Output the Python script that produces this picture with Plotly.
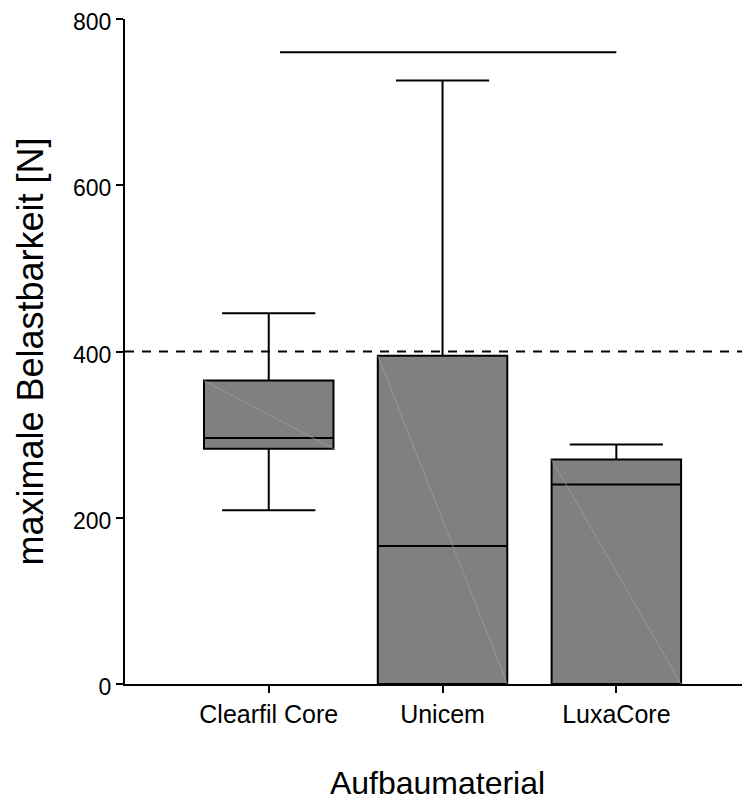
import plotly.graph_objects as go

# ---- data ----
categories = ["Clearfil Core", "Unicem", "LuxaCore"]
lower_whisker = [209, 0, 0]
q1_values = [283, 0, 0]
median_values = [296, 166, 240]
q3_values = [365, 395, 270]
upper_whisker = [446, 726, 288]
reference_level = [400]
bracket_level = [760]
bracket_span = [0.065, 2.0]
y_ticks = [0, 200, 400, 600, 800]

positions = list(range(len(categories)))
box_width = 0.745

fig = go.Figure()
fig.add_trace(go.Box(
    x=positions,
    q1=q1_values,
    median=median_values,
    q3=q3_values,
    lowerfence=lower_whisker,
    upperfence=upper_whisker,
    width=box_width,
    whiskerwidth=0.72,
    fillcolor="#808080",
    line=dict(color="black", width=2),
    boxpoints=False,
    showlegend=False,
    hoverinfo="skip",
))

# faint diagonal rendering streaks inside boxes
for i, (lo, hi) in enumerate(zip(q1_values, q3_values)):
    fig.add_trace(go.Scatter(
        x=[i - box_width / 2, i + box_width / 2],
        y=[hi, lo],
        mode="lines",
        line=dict(color="#a0a0a0", width=0.7),
        showlegend=False,
        hoverinfo="skip",
    ))

# dashed reference line
fig.add_shape(type="line", xref="paper", x0=0, x1=1, yref="y",
              y0=reference_level[0], y1=reference_level[0],
              line=dict(color="black", width=2, dash="9px,8px"))
# horizontal bracket line
fig.add_shape(type="line", xref="x", x0=bracket_span[0], x1=bracket_span[1], yref="y",
              y0=bracket_level[0], y1=bracket_level[0],
              line=dict(color="black", width=2))

font_family = "Liberation Sans, Arial, sans-serif"
# page body has an 8px margin, so the figure is sized/placed to compensate
fig.update_layout(
    width=742, height=793,
    margin=dict(l=117, r=0, t=11, b=117, autoexpand=False),
    paper_bgcolor="white", plot_bgcolor="white",
    font=dict(family=font_family, color="black"),
    boxmode="overlay",
    xaxis=dict(
        range=[-0.827, 2.769],
        tickvals=positions, ticktext=categories,
        tickfont=dict(size=25),
        automargin=False,
        ticks="outside", ticklen=7, tickwidth=2, tickcolor="black",
        showline=True, linewidth=2, linecolor="black",
        showgrid=False, zeroline=False,
        title=dict(text="Aufbaumaterial", font=dict(size=32), standoff=52),
    ),
    yaxis=dict(
        range=[0, 800],
        tickvals=y_ticks,
        tickfont=dict(size=23),
        ticklabeloverflow="allow",
        ticklabelshift=3,
        automargin=False,
        ticks="outside", ticklen=7, tickwidth=2, tickcolor="black",
        showline=True, linewidth=2, linecolor="black",
        showgrid=False, zeroline=False,
        title=dict(text="maximale Belastbarkeit [N]", font=dict(size=36), standoff=18),
    ),
)

fig.write_html("out.html")
